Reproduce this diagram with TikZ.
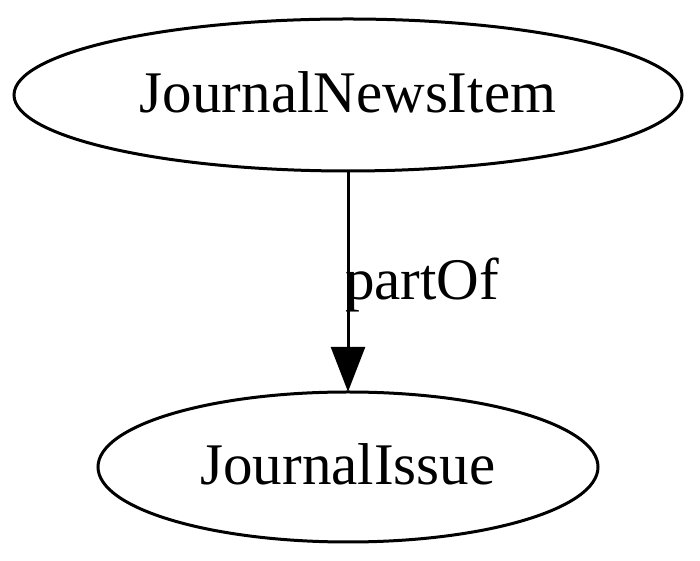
\documentclass[tikz,border=0pt]{standalone}
\usepackage{fontspec}
\setmainfont{Liberation Serif}
\usetikzlibrary{shapes.geometric,arrows.meta}
\begin{document}
\begin{tikzpicture}[x=1pt,y=1pt,
  gvnode/.style={draw,line width=3pt,ellipse},
  gvtext/.style={font=\fontsize{59}{70}\selectfont},
  gvedge/.style={line width=3pt,-{Triangle[length=45pt,width=34pt]}}]
\useasboundingbox (0,0) rectangle (700,561);
\draw[gvnode] (348,466) ellipse [x radius=334, y radius=76];
\draw[gvnode] (348,94) ellipse [x radius=250, y radius=75];
\node[gvtext,inner sep=0,minimum width=668pt,minimum height=152pt] (a) at (348,466) {};
\node[gvtext,inner sep=0,minimum width=500pt,minimum height=150pt] (b) at (348,94) {};
\node[gvtext,anchor=base,inner sep=0] (ta) at (348,448) {JournalNewsItem};
\node[gvtext,anchor=base,inner sep=0] (tb) at (348,76) {JournalIssue};
\draw[gvedge] (a.south) -- (b.north);
\node[gvtext,anchor=base west,inner sep=0] (lab) at (345,261) {partOf};
\end{tikzpicture}
\end{document}
